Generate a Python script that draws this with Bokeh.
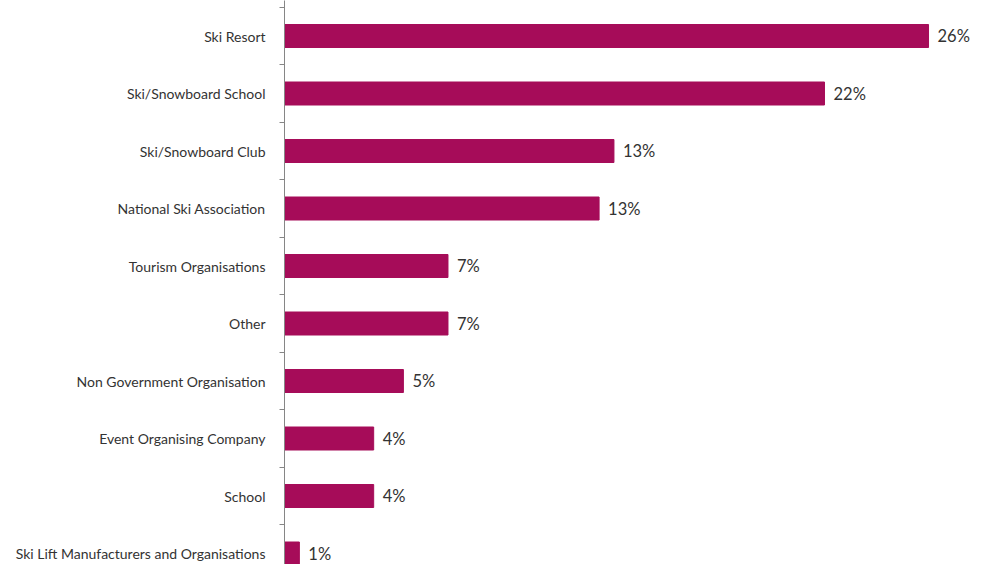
from bokeh.plotting import figure
from bokeh.models import Range1d, FixedTicker, ColumnDataSource
from bokeh.core.properties import value
from bokeh.embed import file_html
from bokeh.resources import INLINE

categories = ["Ski Resort", "Ski/Snowboard School", "Ski/Snowboard Club",
              "National Ski Association", "Tourism Organisations", "Other",
              "Non Government Organisation", "Event Organising Company",
              "School", "Ski Lift Manufacturers and Organisations"]
values = [26.0, 21.8, 13.3, 12.7, 6.6, 6.6, 4.8, 3.6, 3.6, 0.6]
labels = ["26%", "22%", "13%", "13%", "7%", "7%", "5%", "4%", "4%", "1%"]

idx = list(range(len(categories)))
src = ColumnDataSource(dict(y=idx, v=values, lab=labels))

W, H = 977, 564
left = 284
px_per = 24.77
step = 57.5
first_center = 35.5

p = figure(width=W, height=H, output_backend="svg", toolbar_location=None,
           x_range=Range1d(0, (W - left) / px_per),
           y_range=Range1d((H - first_center) / step, -first_center / step),
           x_axis_location=None, min_border_left=left, min_border_right=0,
           min_border_top=0, min_border_bottom=0)
p.outline_line_color = None
p.xgrid.visible = False
p.ygrid.visible = False

p.hbar(y="y", right="v", left=0, height=0.4, source=src,
       fill_color="#A60C59", line_color="#A60C59")
p.text(x="v", y="y", text="lab", source=src, x_offset=9,
       text_align="left", text_baseline="middle",
       text_font=value("Lato"), text_font_size="16.5px", text_color="#333333")

ax = p.yaxis[0]
ax.ticker = FixedTicker(ticks=idx, minor_ticks=[i + 0.5 for i in range(-1, len(categories))])
ax.major_label_overrides = {i: c for i, c in zip(idx, categories)}
ax.major_tick_line_color = None
ax.major_tick_out = 0
ax.major_tick_in = 0
ax.minor_tick_out = 5
ax.minor_tick_in = 0
ax.minor_tick_line_color = "#868686"
ax.axis_line_color = "#868686"
ax.major_label_standoff = 14
ax.major_label_text_font = "Lato"
ax.major_label_text_font_size = "14px"
ax.major_label_text_color = "#333333"

open("out.html", "w").write(file_html(p, INLINE))
